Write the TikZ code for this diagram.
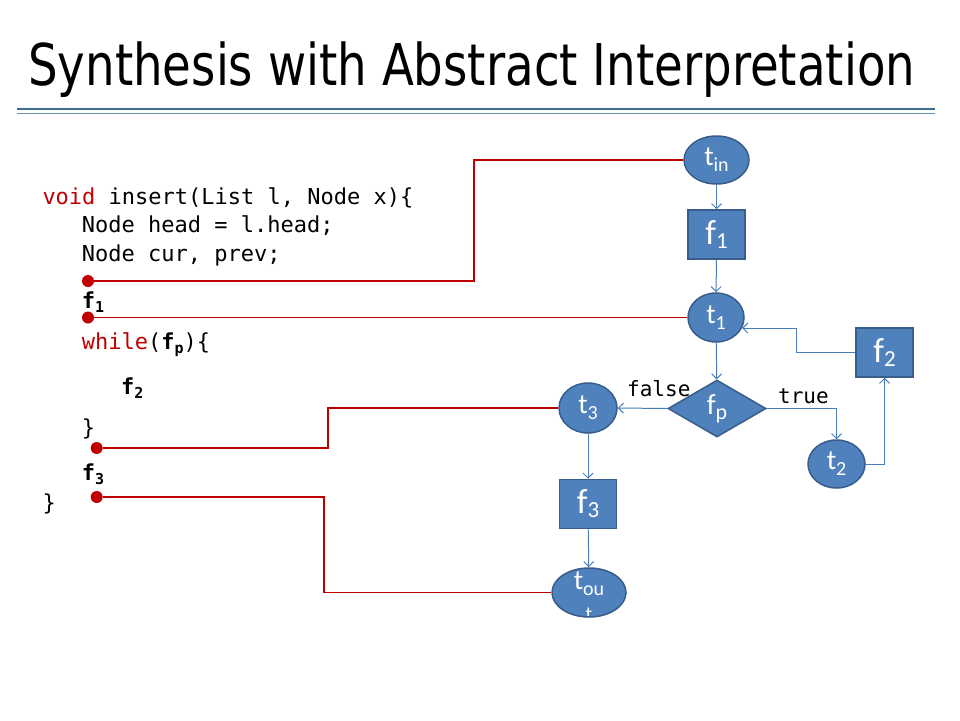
\documentclass[tikz,border=0pt]{standalone}
\usepackage{fontspec}
\usepackage{graphicx}
\usetikzlibrary{shapes.geometric,arrows.meta}
\setmainfont{Carlito}
\newfontfamily\titlefont{DejaVu Sans}
\newfontfamily\codefont{DejaVu Sans Mono}
\definecolor{nfill}{HTML}{4F81BD}
\definecolor{nborder}{HTML}{385D8A}
\definecolor{connc}{HTML}{4A7EBB}
\definecolor{dred}{HTML}{C00000}
\definecolor{rulec}{HTML}{3B6E8F}
\definecolor{rulec2}{HTML}{6A93AE}
\newcommand\tsub[2]{{\fontsize{28}{28}\selectfont #1}\raisebox{-6pt}{\fontsize{20}{20}\selectfont #2}}
\newcommand\fsub[2]{{\fontsize{35}{35}\selectfont #1}\raisebox{-4pt}{\fontsize{23}{23}\selectfont #2}}
\newcommand\codef[1]{\textbf{f}\raisebox{-4pt}{\fontsize{15}{15}\selectfont\bfseries #1}}
\tikzset{
  ell/.style={ellipse, draw=nborder, fill=nfill, line width=1.5pt, inner sep=0pt, text=white},
  boxn/.style={rectangle, draw=nborder, fill=nfill, line width=1.5pt, inner sep=0pt, text=white, minimum width=57pt, minimum height=49pt},
  dia/.style={diamond, draw=nborder, fill=nfill, line width=1.5pt, inner sep=0pt, text=white, minimum width=98pt, minimum height=57pt},
  conn/.style={draw=connc, line width=1pt, -{Straight Barb[length=5pt,width=10pt]}},
  rline/.style={draw=dred, line width=1.3pt},
  rdot/.style={circle, fill=dred, inner sep=0pt, minimum size=12pt},
  code/.style={anchor=base west, inner sep=0pt, font=\codefont\fontsize{22}{26}\selectfont},
  lbl/.style={anchor=base west, inner sep=0pt, font=\codefont\fontsize{21}{24}\selectfont}
}
\begin{document}
\begin{tikzpicture}[x=1pt,y=-1pt]
\useasboundingbox[fill=white] (0,0) rectangle (960,720);
% title
\node[anchor=base west, inner sep=0pt] (title) at (28,85) {\resizebox{887pt}{\height}{\titlefont\fontsize{57.6}{60}\selectfont Synthesis with Abstract Interpretation}};
\draw[rulec, line width=2pt] (17,108.5) -- (935,108.5);
\draw[rulec2, line width=1pt] (17,113.3) -- (935,113.3);
% code
\node[code] (c1) at (42.3,204) {\textcolor{dred}{void} insert(List l, Node x)\{};
\node[code] (c2) at (81.7,232.7) {Node head = l.head;};
\node[code] (c3) at (81.7,261.5) {Node cur, prev;};
\node[code] (c4) at (81.7,308) {\codef{1}};
\node[code] (c5) at (81.7,349) {\textcolor{dred}{while}(\codef{p})\{};
\node[code] (c6) at (121,394) {\codef{2}};
\node[code] (c7) at (81.7,435) {\}};
\node[code] (c8) at (81.7,480) {\codef{3}};
\node[code] (c9) at (42.3,510) {\}};
% flow nodes
\node[ell, minimum width=65pt, minimum height=48pt] (tin) at (716.5,160) {\tsub{t}{in}};
\node[boxn] (f1) at (716.5,234.5) {\fsub{f}{1}};
\node[ell, minimum width=56pt, minimum height=49pt] (t1) at (716,317.5) {\tsub{t}{1}};
\node[boxn] (f2) at (884.5,352.5) {\fsub{f}{2}};
\node[dia] (fp) at (717,408.5) {{\fontsize{29}{29}\selectfont f}\raisebox{-5pt}{\fontsize{22}{22}\selectfont p}};
\node[ell, minimum width=58pt, minimum height=50pt] (t3) at (588,408) {\tsub{t}{3}};
\node[ell, minimum width=57pt, minimum height=48pt] (t2) at (836.5,464) {\tsub{t}{2}};
\node[boxn] (f3) at (588,504) {\fsub{f}{3}};
\node[ell, minimum width=74pt, minimum height=49pt] (tout) at (589,592.5) {};
\node[inner sep=0pt, text=white] (toutlbl) at (589,584) {\tsub{t}{ou}};
\begin{scope}
\clip (589,592.5) ellipse [x radius=36pt, y radius=23.5pt];
\node[inner sep=0pt, text=white, font=\fontsize{20}{20}\selectfont, anchor=base] (toutrest) at (589,620) {t};
\end{scope}
% labels
\node[lbl] (lfalse) at (627,396) {false};
\node[lbl] (ltrue) at (778,403) {true};
% blue connectors
\draw[conn] (tin) -- (f1);
\draw[conn] (f1) -- (t1);
\draw[conn] (t1) -- (fp);
\draw[conn] (fp.west) -- (t3.east);
\draw[conn] (fp.east) -| (t2.north);
\draw[conn] (t2.east) -| (f2.south);
\coordinate (kb) at (796,352.5);
\draw[conn] (f2.west) -- (kb) |- (t1.-22);
\draw[conn] (t3) -- (f3);
\draw[conn] (f3) -- (tout);
% red dots and lines
\node[rdot] (d1) at (88,281) {};
\node[rdot] (d2) at (88,317.5) {};
\node[rdot] (d3) at (96.7,448) {};
\node[rdot] (d4) at (96.7,497) {};
\coordinate (k1) at (474,281);
\coordinate (k3) at (328,448);
\coordinate (k4) at (324,497);
\draw[rline] (d1) -- (k1) |- (tin.west);
\draw[rline] (d2) -- (t1.west);
\draw[rline] (d3) -- (k3) |- (t3.west);
\draw[rline] (d4) -- (k4) |- (tout.west);
\end{tikzpicture}
\end{document}
